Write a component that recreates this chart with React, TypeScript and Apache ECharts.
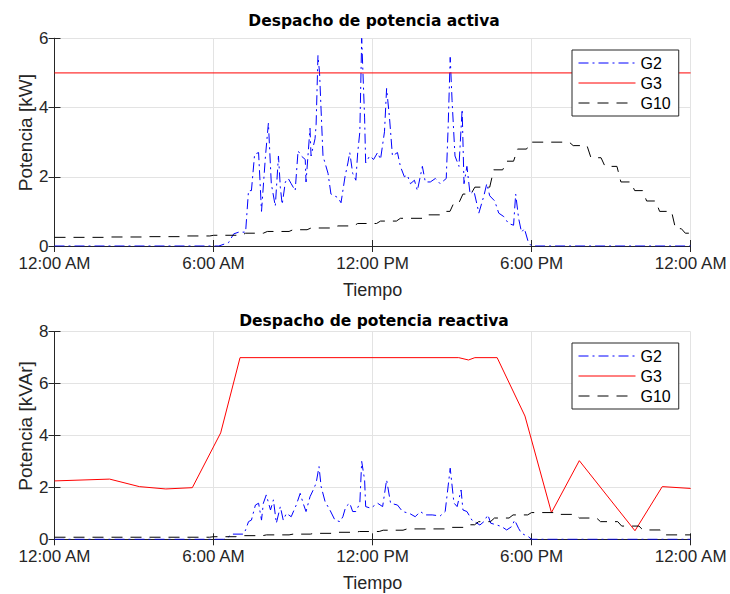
import React, { useEffect, useRef } from "react";
import * as echarts from "echarts";

// ---------- DATA ----------
const xTickLabels = ["12:00 AM", "6:00 AM", "12:00 PM", "6:00 PM", "12:00 AM"];
const seriesNames = ["G2", "G3", "G10"];

// Active power (kW)
const g2ActT = [0, 6.2, 6.57, 6.76, 6.95, 7.21, 7.32, 7.43, 7.55, 7.7, 7.81, 7.96, 8.07, 8.18, 8.33, 8.45, 8.52, 8.59, 8.71, 8.82, 8.93, 9.08, 9.19, 9.31, 9.46, 9.49, 9.64, 9.68, 9.83, 9.87, 9.94, 10.0, 10.13, 10.32, 10.43, 10.69, 10.81, 10.96, 11.07, 11.14, 11.25, 11.37, 11.44, 11.52, 11.59, 11.7, 11.74, 11.89, 12.04, 12.19, 12.3, 12.45, 12.53, 12.64, 12.75, 12.94, 13.05, 13.2, 13.31, 13.43, 13.58, 13.69, 13.88, 13.99, 14.18, 14.37, 14.55, 14.78, 14.85, 14.93, 15.0, 15.11, 15.26, 15.38, 15.45, 15.56, 15.68, 15.82, 15.94, 16.01, 16.2, 16.31, 16.42, 16.61, 16.76, 16.95, 17.13, 17.32, 17.4, 17.51, 17.62, 17.73, 17.88, 18.0, 24];
const g2ActV = [0, 0, 0.1, 0.35, 0.4, 0.4, 1.6, 1.6, 2.65, 2.7, 1.0, 2.6, 3.55, 1.8, 1.15, 2.6, 1.7, 1.2, 1.85, 1.95, 1.8, 1.6, 2.75, 2.6, 2.5, 1.85, 3.4, 2.6, 3.1, 3.5, 5.5, 5.0, 2.6, 2.1, 1.5, 1.4, 1.25, 2.0, 2.4, 2.7, 2.1, 1.9, 2.7, 3.3, 6.0, 3.7, 2.4, 2.6, 2.5, 2.7, 2.5, 3.3, 4.55, 3.7, 2.6, 2.7, 2.3, 2.0, 2.05, 1.8, 1.9, 1.6, 2.3, 1.85, 1.85, 1.95, 1.8, 1.95, 3.4, 5.45, 4.2, 2.6, 2.3, 3.95, 1.8, 2.3, 1.5, 1.6, 1.2, 0.95, 1.45, 1.8, 1.45, 1.3, 0.95, 0.85, 0.65, 0.6, 1.5, 0.8, 0.4, 0.5, 0.1, 0, 0];
const g3ActT = [0, 24];
const g3ActV = [5, 5];
const g10ActT = [0, 2, 3.5, 5, 6.01, 7.21, 8.03, 9.0, 9.68, 10.69, 11.44, 12.3, 13.05, 14.06, 14.74, 15.07, 15.41, 15.86, 16.57, 17.06, 17.47, 17.96, 19.57, 20.24, 20.77, 21.37, 21.89, 22.34, 22.83, 23.43, 23.8];
const g10ActV = [0.25, 0.26, 0.27, 0.29, 0.31, 0.37, 0.42, 0.47, 0.52, 0.58, 0.65, 0.72, 0.8, 0.9, 1.0, 1.25, 1.5, 1.7, 2.2, 2.45, 2.8, 3.0, 2.9, 2.55, 2.3, 1.85, 1.6, 1.3, 1.0, 0.5, 0.37];

// Reactive power (kVAr)
const g2ReaT = [0, 6.39, 6.57, 6.69, 7.13, 7.21, 7.32, 7.43, 7.58, 7.7, 7.81, 7.88, 7.99, 8.15, 8.26, 8.37, 8.52, 8.63, 8.75, 8.93, 9.12, 9.27, 9.38, 9.49, 9.64, 9.76, 9.87, 9.98, 10.06, 10.21, 10.39, 10.58, 10.77, 10.88, 10.99, 11.14, 11.25, 11.37, 11.52, 11.59, 11.7, 11.74, 11.93, 12.19, 12.38, 12.53, 12.68, 12.94, 13.13, 13.39, 13.61, 13.8, 13.99, 14.25, 14.55, 14.74, 14.93, 15.07, 15.19, 15.34, 15.41, 15.56, 15.75, 15.94, 16.05, 16.2, 16.35, 16.46, 16.69, 16.87, 17.06, 17.25, 17.36, 17.51, 17.62, 17.88, 18.0, 24];
const g2ReaV = [0, 0, 0.1, 0.2, 0.2, 0.36, 0.68, 0.74, 1.32, 1.39, 0.74, 1.39, 1.71, 1.13, 1.52, 0.62, 1.26, 0.74, 1.0, 0.87, 1.32, 1.77, 1.39, 1.07, 1.64, 1.9, 2.16, 2.8, 2.03, 1.45, 1.13, 0.74, 0.68, 0.87, 1.26, 1.39, 1.07, 1.07, 1.39, 3.0, 2.29, 1.26, 1.2, 1.39, 1.26, 2.29, 1.39, 1.32, 1.07, 1.0, 0.87, 1.07, 0.94, 0.94, 0.9, 1.07, 2.74, 1.4, 1.26, 1.9, 1.13, 1.07, 0.74, 0.62, 0.55, 0.68, 0.94, 0.62, 0.55, 0.49, 0.36, 0.49, 0.74, 0.42, 0.23, 0.1, 0, 0];
const g3ReaT = [0, 2.08, 3.2, 4.2, 5.2, 6.27, 7.0, 15.25, 15.62, 15.86, 16.7, 17.75, 18.75, 19.8, 21.9, 22.93, 24];
const g3ReaV = [2.25, 2.32, 2.03, 1.94, 1.99, 4.1, 7.0, 7.0, 6.91, 7.0, 7.0, 4.75, 1.03, 3.03, 0.33, 2.03, 1.96];
const g10ReaT = [0, 6.0, 7.0, 8.0, 9.0, 9.8, 10.7, 11.5, 12.4, 13.3, 15.0, 15.6, 16.0, 16.6, 17.3, 18.0, 19.0, 19.8, 20.6, 21.4, 22.2, 23.0];
const g10ReaV = [0.08, 0.1, 0.14, 0.17, 0.2, 0.23, 0.27, 0.3, 0.35, 0.4, 0.46, 0.56, 0.68, 0.82, 0.94, 1.03, 0.96, 0.82, 0.68, 0.51, 0.36, 0.17];

// ---------- HELPERS ----------
const pairs = (t: number[], v: number[]) => t.map((x, i) => [x, v[i]]);
// hold each value until the next sample, with a short ramp at the change
const stepped = (t: number[], v: number[], end: number) => {
  const out: number[][] = [];
  for (let i = 0; i < t.length; i++) {
    out.push([t[i], v[i]]);
    const next = i + 1 < t.length ? t[i + 1] : end;
    out.push([i + 1 < t.length ? next - 0.15 : end, v[i]]);
  }
  return out;
};

const AX = "#262626";
const GRID = "#e3e3e3";
const FONT = "Liberation Sans, Arial, sans-serif";

export default function App() {
  const ref = useRef<HTMLDivElement>(null);
  useEffect(() => {
    if (!ref.current) return;
    const chart = echarts.init(ref.current, undefined, { renderer: "svg" });

    const grids = [
      { left: 54.5, right: 35, top: 38.3, height: 207.7 },
      { left: 54.5, right: 35, top: 331.7, height: 207.6 },
    ];

    const mainX = (gi: number) => ({
      type: "value",
      gridIndex: gi,
      min: 0,
      max: 24,
      interval: 6,
      position: "bottom",
      name: "Tiempo",
      nameLocation: "middle",
      nameGap: 35,
      nameMoveOverlap: false,
      nameTextStyle: { fontFamily: FONT, fontSize: 18, color: AX },
      axisLine: { show: true, lineStyle: { color: AX, width: 1 } },
      axisTick: { show: true, inside: true, length: 6, lineStyle: { color: AX } },
      axisLabel: {
        show: true,
        fontFamily: FONT,
        fontSize: 17,
        color: AX,
        margin: 9,
        formatter: (val: number) => xTickLabels[Math.round(val / 6)] ?? "",
      },
      splitLine: { show: true, lineStyle: { color: GRID, width: 1 } },
    });
    const topX = (gi: number) => ({
      type: "value",
      gridIndex: gi,
      min: 0,
      max: 24,
      interval: 6,
      position: "top",
      axisLine: { show: true, lineStyle: { color: AX, width: 1 } },
      axisTick: { show: true, inside: true, length: 6, lineStyle: { color: AX } },
      axisLabel: { show: false },
      splitLine: { show: false },
    });
    const mainY = (gi: number, max: number, name: string) => ({
      type: "value",
      gridIndex: gi,
      min: 0,
      max,
      interval: 2,
      position: "left",
      name,
      nameLocation: "middle",
      nameGap: 20,
      nameMoveOverlap: false,
      nameTextStyle: { fontFamily: FONT, fontSize: 19, color: AX, padding: [0, 0, 0, 19] },
      axisLine: { show: true, lineStyle: { color: AX, width: 1 } },
      axisTick: { show: true, inside: true, length: 6, lineStyle: { color: AX } },
      axisLabel: { show: true, fontFamily: FONT, fontSize: 17, color: AX, margin: 6 },
      splitLine: { show: true, lineStyle: { color: GRID, width: 1 } },
    });
    const rightY = (gi: number, max: number) => ({
      type: "value",
      gridIndex: gi,
      min: 0,
      max,
      interval: 2,
      position: "right",
      axisLine: { show: true, lineStyle: { color: AX, width: 1 } },
      axisTick: { show: true, inside: true, length: 6, lineStyle: { color: AX } },
      axisLabel: { show: false },
      splitLine: { show: false },
    });

    const dashDot = [10, 4, 2, 4];
    const dashed = [11, 8];
    const line = (name: string, xi: number, yi: number, data: number[][], color: string, type: any) => ({
      name,
      type: "line",
      xAxisIndex: xi,
      yAxisIndex: yi,
      data,
      symbol: "none",
      showSymbol: false,
      clip: true,
      lineStyle: { color, width: 1, type },
      itemStyle: { color },
    });

    const legend = (top: number) => ({
      data: seriesNames,
      orient: "vertical",
      left: 572,
      top,
      itemWidth: 57,
      itemHeight: 14,
      itemGap: 4,
      padding: [5, 8, 5, 6],
      borderColor: AX,
      borderWidth: 1,
      backgroundColor: "#fff",
      selectedMode: false,
      itemStyle: { opacity: 0 },
      lineStyle: { width: 1 },
      textStyle: { fontFamily: FONT, fontSize: 16, color: "#000" },
    });

    const titleStyle = { fontFamily: "DejaVu Sans, sans-serif", fontWeight: "bold", fontSize: 15.5, color: "#000" };

    chart.setOption({
      animation: false,
      backgroundColor: "#fff",
      title: [
        { text: "Despacho de potencia activa", left: 369, top: 8, textAlign: "center", textStyle: titleStyle },
        { text: "Despacho de potencia reactiva", left: 369, top: 308, textAlign: "center", textStyle: titleStyle },
      ],
      grid: grids,
      xAxis: [mainX(0), topX(0), mainX(1), topX(1)],
      yAxis: [mainY(0, 6, "Potencia [kW]"), rightY(0, 6), mainY(1, 8, "Potencia [kVAr]"), rightY(1, 8)],
      legend: [legend(50), legend(343)],
      series: [
        line("G2", 0, 0, pairs(g2ActT, g2ActV), "#0000ff", dashDot),
        line("G3", 0, 0, pairs(g3ActT, g3ActV), "#ff0000", "solid"),
        line("G10", 0, 0, stepped(g10ActT, g10ActV, 24), "#000000", dashed),
        line("G2", 2, 2, pairs(g2ReaT, g2ReaV), "#0000ff", dashDot),
        line("G3", 2, 2, pairs(g3ReaT, g3ReaV), "#ff0000", "solid"),
        line("G10", 2, 2, stepped(g10ReaT, g10ReaV, 24), "#000000", dashed),
      ],
    });
    return () => chart.dispose();
  }, []);

  return (
    <div
      ref={ref}
      style={{ position: "fixed", left: 0, top: 0, width: 730, height: 594, background: "#fff" }}
    />
  );
}
